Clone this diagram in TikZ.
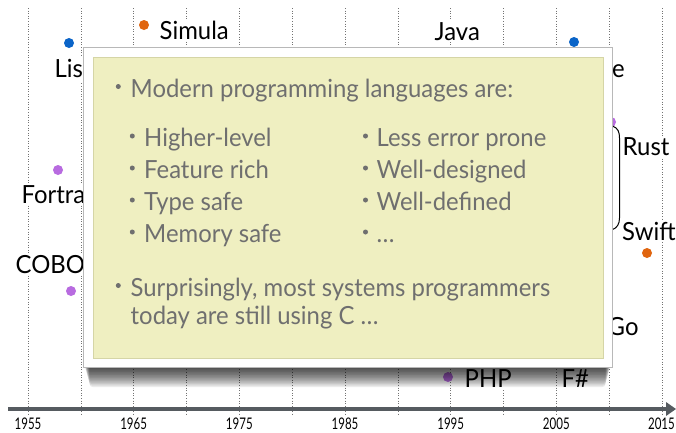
\documentclass[tikz,border=0pt]{standalone}
\usepackage{fontspec}
\setmainfont[FakeStretch=0.955]{Lato}
\newfontfamily\yearfont[FakeStretch=0.72]{Lato}
\definecolor{lispblue}{HTML}{0A64C8}
\definecolor{simorange}{HTML}{E0650F}
\definecolor{fortpurple}{HTML}{B86BE0}
\definecolor{notefill}{HTML}{EFEFC1}
\definecolor{noteedge}{HTML}{D5D5A6}
\definecolor{notetext}{HTML}{6F6F6F}
\definecolor{axisgray}{HTML}{565B60}
\begin{document}
\begin{tikzpicture}[x=1pt,y=-1pt,
  gridline/.style={black!55, line width=0.6pt, dotted},
  lang/.style={font=\fontsize{25}{25}\selectfont, fill=white, inner sep=1.5pt,
    anchor=base west, text=black},
  yearlabel/.style={font=\yearfont\fontsize{16}{16}\selectfont, anchor=base, inner sep=0pt},
  langdot/.style={circle, fill=#1, minimum size=10pt, inner sep=0pt},
  notetxt/.style={font=\fontsize{25}{25}\selectfont, text=notetext, anchor=base west, inner sep=0pt},
  bulletdot/.style={notetext},
  ]
\useasboundingbox[fill=white] (0,0) rectangle (676,432);

% dotted year grid, every five years from 1955 to 2015
\foreach \i in {0,...,12}
  \draw[gridline] ({28+52.83*\i},8) -- ({28+52.83*\i},414);

% time axis
\coordinate (axstart) at (8,409);
\coordinate (axend) at (666,409);
\draw[axisgray, line width=3.5pt] (axstart) -- (axend);
\fill[axisgray] (axend) ++(0,-7) -- ++(10,7) -- ++(-10,7) -- cycle;

% year labels
\foreach \y [count=\j from 0] in {1955,1965,1975,1985,1995,2005}
  \node[yearlabel] (yr\y) at ({28+105.67*\j},429) {\y};
\node[yearlabel, anchor=base east] (yr2015) at (675,429) {2015};

% languages
\node[langdot=lispblue]   (dlisp)    at (69,43)   {};
\node[lang] (lisp)    at (53,77)   {Lisp};
\node[langdot=simorange]  (dsimula)  at (144,25)  {};
\node[lang] (simula)  at (158,39)  {Simula};
\node[lang] (java)    at (433,40)  {Java};
\node[langdot=lispblue]   (dclojure) at (574,42)  {};
\node[lang] (clojure) at (548,77)  {Clojure};
\node[langdot=fortpurple] (dfortran) at (58,170)  {};
\node[lang] (fortran) at (20,203)  {Fortran};
\node[lang] (cobol)   at (14,273)  {COBOL};
\node[langdot=fortpurple] (dcobol)   at (71,291)  {};
\node[langdot=fortpurple] (drust)    at (611,122) {};
\node[lang] (rust)    at (621,155) {Rust};
\node[lang] (swift)   at (620.5,240) {Swift};
\node[langdot=simorange]  (dswift)   at (647,253) {};
\node[lang] (go)      at (606,335) {Go};
\node[langdot=fortpurple] (dphp)     at (448,377) {};
\node[lang] (php)     at (463,387) {PHP};
\node[lang] (fsharp)  at (560,387) {F\#};

% bracket joining Rust and Swift
\coordinate (brtop) at (612.5,126);
\coordinate (brbot) at (612.5,229.5);
\draw[black, line width=1pt] (brtop) .. controls (618,128) and (619.5,132) .. (619.5,138)
  -- (619.5,218) .. controls (619.5,224) and (617,228) .. (brbot);

% soft shadow under the note
\foreach \k in {1,...,14}
  \fill[black, opacity=0.08, rounded corners=3pt] ({84+0.4*\k},355) rectangle ({611-0.4*\k},{366+1.5*\k});

% the note card
\node[draw=black!28, line width=1.2pt, fill=white, minimum width=529pt, minimum height=320pt,
  inner sep=0pt, anchor=north west] (card) at (83,47) {};
\node[draw=noteedge, line width=1pt, fill=notefill, minimum width=510pt, minimum height=301pt,
  inner sep=0pt, anchor=north west] (note) at (93,57) {};

% bullet text
\fill[bulletdot] (118.3,86.5) circle (2.5);
\node[notetxt] (t1) at (130.5,97) {Modern programming languages are:};

\fill[bulletdot] (132.3,136) circle (2.5);
\node[notetxt] (a1) at (144,146.5) {Higher-level};
\fill[bulletdot] (132.3,168) circle (2.5);
\node[notetxt] (a2) at (144,178.5) {Feature rich};
\fill[bulletdot] (132.3,200) circle (2.5);
\node[notetxt] (a3) at (144,210.5) {Type safe};
\fill[bulletdot] (132.3,232) circle (2.5);
\node[notetxt] (a4) at (144,242.5) {Memory safe};

\fill[bulletdot] (365.5,136) circle (2.5);
\node[notetxt] (b1) at (376.5,146.5) {Less error prone};
\fill[bulletdot] (365.5,168) circle (2.5);
\node[notetxt] (b2) at (376.5,178.5) {Well-designed};
\fill[bulletdot] (365.5,200) circle (2.5);
\node[notetxt] (b3) at (376.5,210.5) {Well-defined};
\fill[bulletdot] (365.5,232) circle (2.5);
\node[notetxt] (b4) at (376.5,242.5) {\ldots};

\fill[bulletdot] (118.3,285.5) circle (2.5);
\node[notetxt] (t2) at (130.5,296) {Surprisingly, most systems programmers};
\node[notetxt] (t3) at (130.5,324) {today are still using C \ldots};
\end{tikzpicture}
\end{document}
